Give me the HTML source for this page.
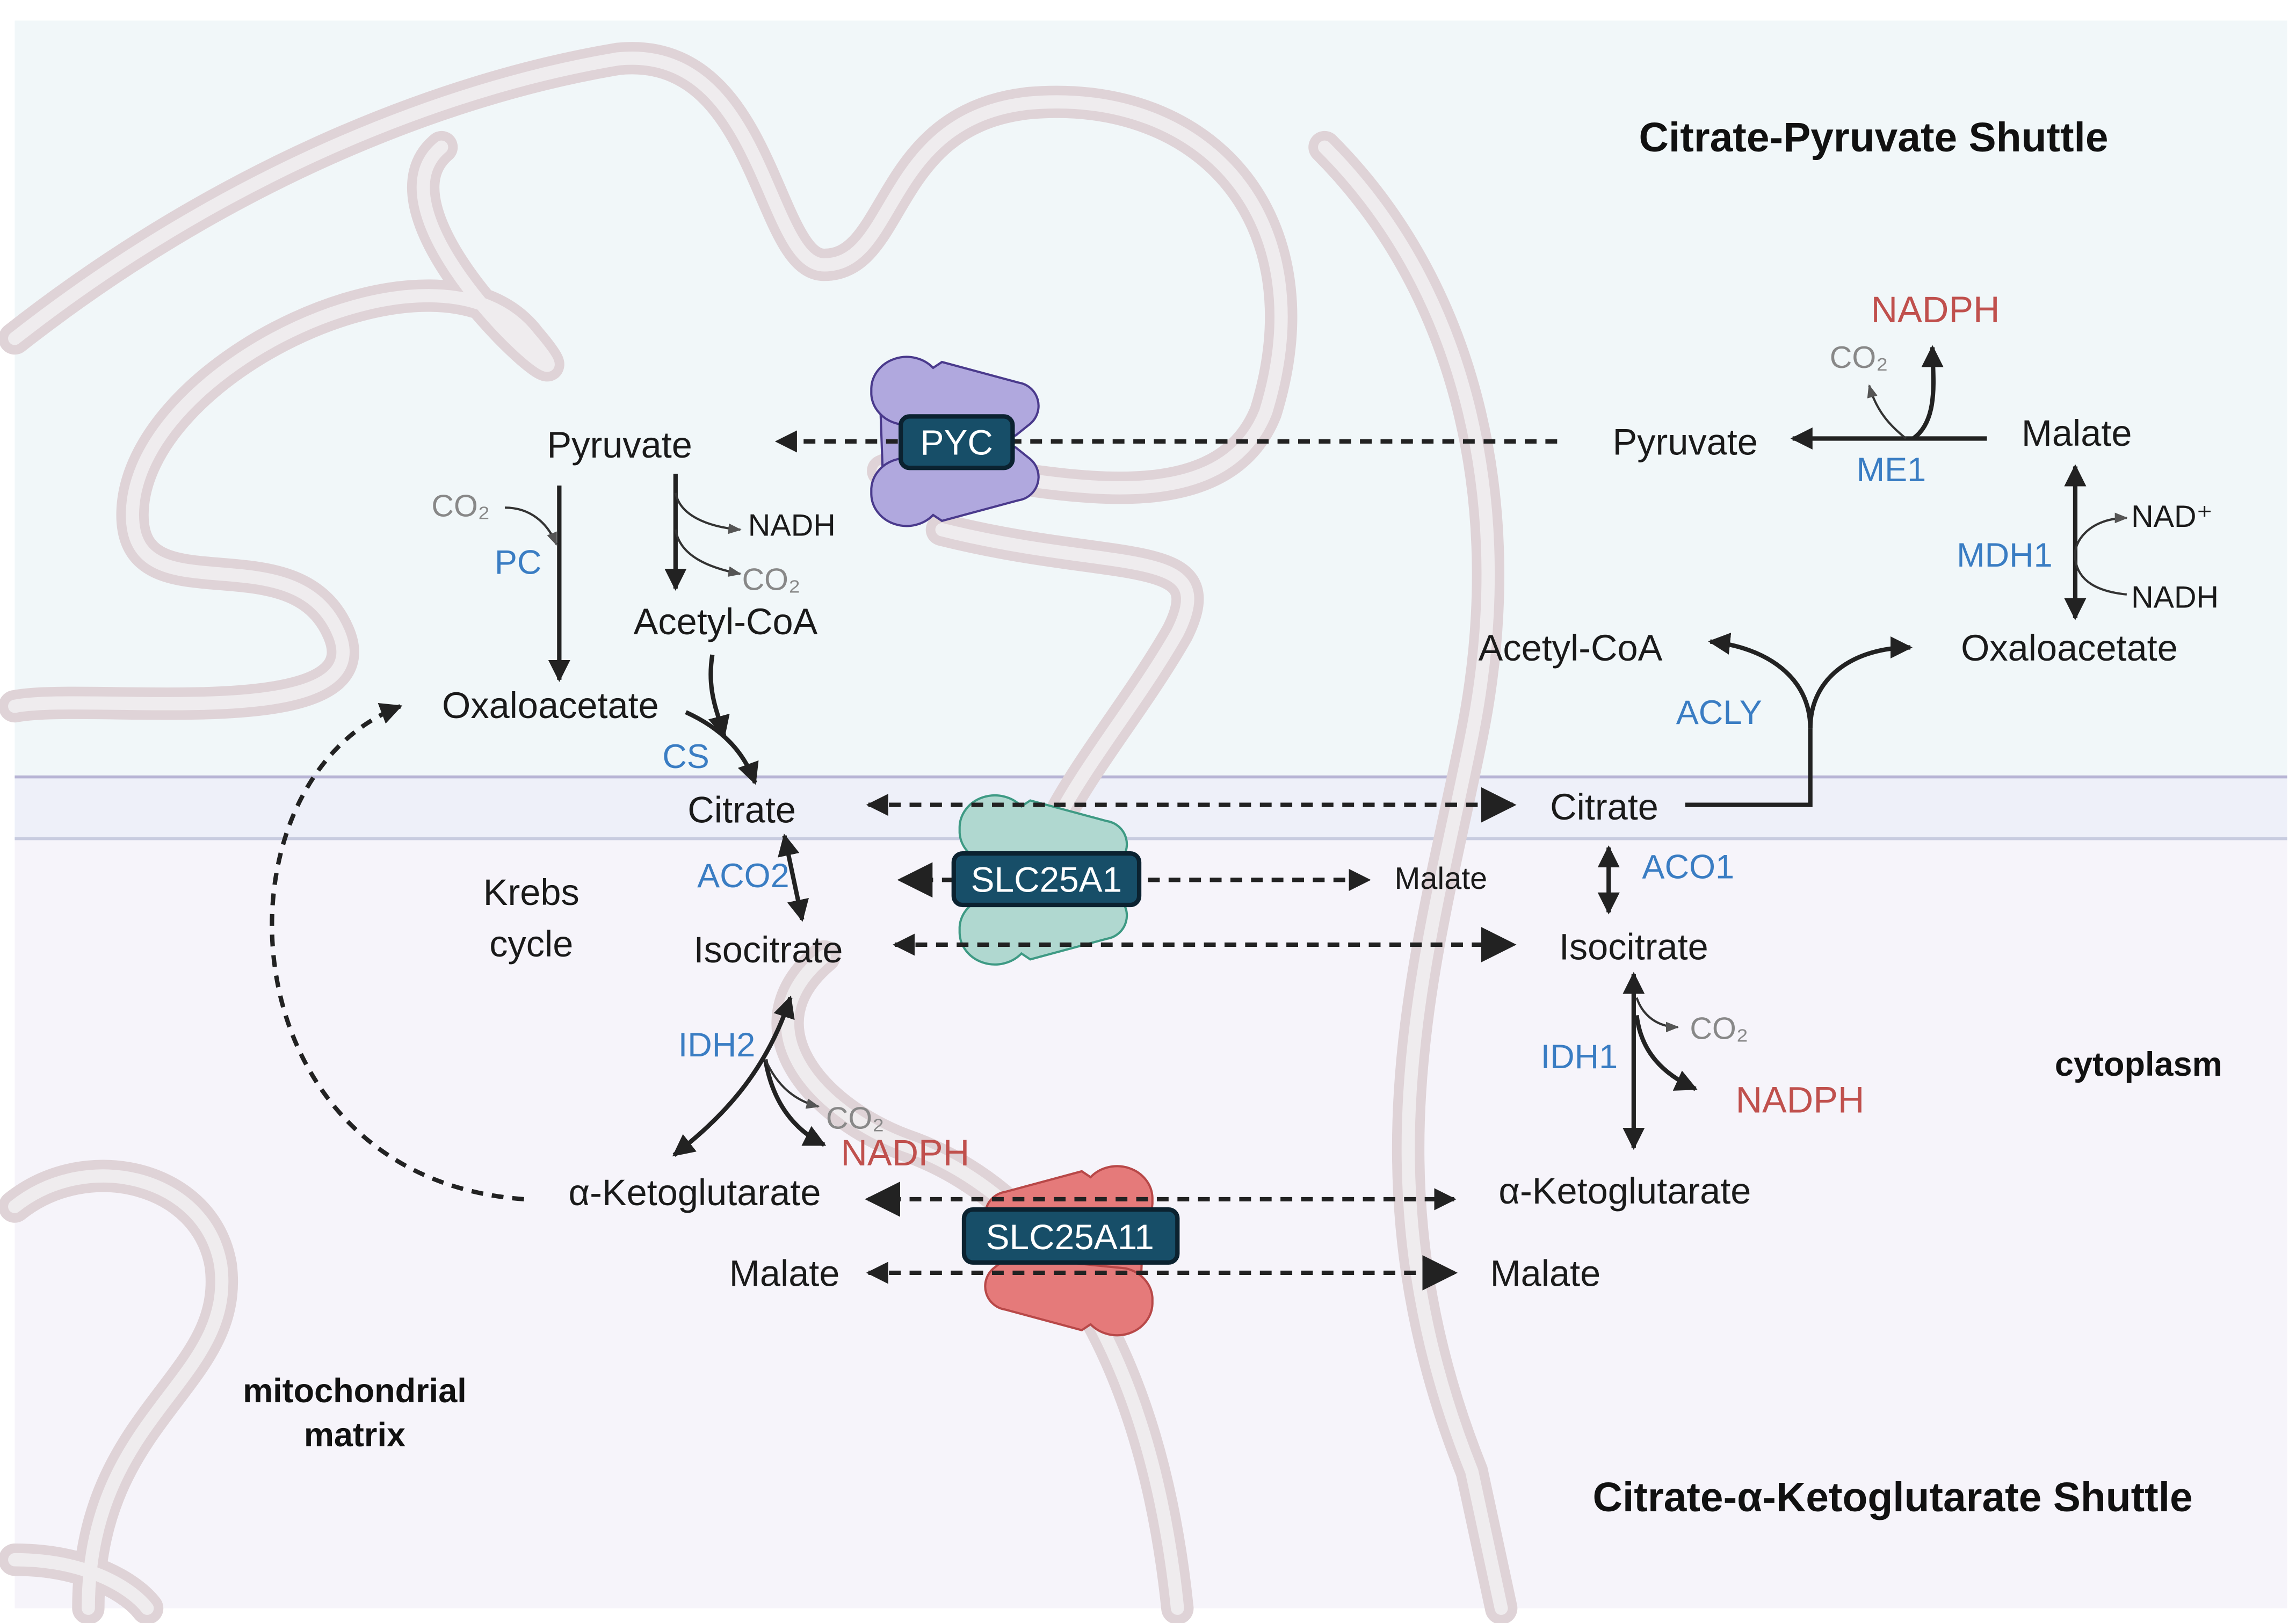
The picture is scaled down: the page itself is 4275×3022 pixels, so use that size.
<!DOCTYPE html>
<html><head><meta charset="utf-8"><style>
html,body{margin:0;padding:0;background:#fff}
svg{display:block}
text{font-family:"Liberation Sans",sans-serif}
.m{font-size:25px;fill:#1a1a1a}
.b{font-size:23px;fill:#3a7dc3}
.r{font-size:25px;fill:#c0504d}
.g{font-size:21px;fill:#888}
.s{font-size:21px;fill:#1a1a1a}
.h{font-weight:bold;fill:#111}
.lab{font-size:24px;fill:#fff}
</style></head><body>
<svg width="4275" height="3022" viewBox="0 0 1560 1103" preserveAspectRatio="none" xmlns="http://www.w3.org/2000/svg">
<defs>
<marker id="a" viewBox="0 0 10 10" refX="9" refY="5" markerWidth="5" markerHeight="5" orient="auto-start-reverse" markerUnits="strokeWidth"><path d="M0,0L10,5L0,10Z" fill="#222"/></marker>
<marker id="A" viewBox="0 0 10 10" refX="9" refY="5" markerWidth="8" markerHeight="8" orient="auto-start-reverse" markerUnits="strokeWidth"><path d="M0,0L10,5L0,10Z" fill="#222"/></marker>
<marker id="t" viewBox="0 0 10 10" refX="9" refY="5" markerWidth="6" markerHeight="6" orient="auto-start-reverse" markerUnits="strokeWidth"><path d="M0,1L10,5L0,9Z" fill="#555"/></marker>
<g id="tp">
<path d="M-52,-28 L-50,28 L-20,28 L-20,-28 Z"/>
<path d="M-58,-36 a24,22 0 0 1 42,-14 l6,-4 l52,14 a16,16 0 0 1 8,28 l-10,8 L-40,-12 a24,22 0 0 1 -18,-20 Z"/>
<path d="M-58,36 a24,22 0 0 0 42,14 l6,4 l52,-14 a16,16 0 0 0 8,-28 l-10,-8 L-40,12 a24,22 0 0 0 -18,20 Z"/>
</g>
</defs>
<rect width="1560" height="1103" fill="#fff"/>
<rect x="10" y="14" width="1544" height="514" fill="#f1f7f9"/>
<rect x="10" y="528" width="1544" height="42" fill="#eef0f9"/>
<rect x="10" y="570" width="1544" height="523" fill="#f6f4fa"/>
<line x1="10" y1="528" x2="1554" y2="528" stroke="#b7b4d4" stroke-width="2"/>
<line x1="10" y1="570" x2="1554" y2="570" stroke="#c8cce0" stroke-width="2"/>
<g fill="none" stroke-linecap="round">
<g stroke="#dfd3d7" stroke-width="22">
<path d="M10,230 C150,120 300,60 420,40 C520,30 520,180 560,180 C610,180 600,80 700,70 C820,60 900,150 860,280 C820,380 640,300 600,320"/>
<path d="M10,480 C60,470 260,500 230,430 C200,360 90,420 90,350 C90,250 300,150 360,230 C420,300 240,150 300,100"/>
<path d="M640,360 C760,390 830,370 800,430 C760,500 700,560 700,620"/>
<path d="M560,650 C500,700 560,760 620,780 C700,810 780,900 800,1093"/>
<path d="M900,100 C1000,200 1030,350 1000,500 C970,650 920,800 1000,1000 L1020,1093"/>
<path d="M10,820 C60,780 140,800 150,860 C160,940 60,960 60,1093"/>
<path d="M10,1060 C60,1060 90,1080 100,1093"/>
</g>
<g stroke="#efecee" stroke-width="9">
<path d="M10,230 C150,120 300,60 420,40 C520,30 520,180 560,180 C610,180 600,80 700,70 C820,60 900,150 860,280 C820,380 640,300 600,320"/>
<path d="M10,480 C60,470 260,500 230,430 C200,360 90,420 90,350 C90,250 300,150 360,230 C420,300 240,150 300,100"/>
<path d="M640,360 C760,390 830,370 800,430 C760,500 700,560 700,620"/>
<path d="M560,650 C500,700 560,760 620,780 C700,810 780,900 800,1093"/>
<path d="M900,100 C1000,200 1030,350 1000,500 C970,650 920,800 1000,1000 L1020,1093"/>
<path d="M10,820 C60,780 140,800 150,860 C160,940 60,960 60,1093"/>
<path d="M10,1060 C60,1060 90,1080 100,1093"/>
</g>
</g>
<!-- transporters -->
<use href="#tp" x="650" y="300" fill="#b0a8de" stroke="#4a3a8c" stroke-width="1.5"/>
<use href="#tp" x="710" y="598" fill="#b0d8d0" stroke="#3e9a84" stroke-width="1.5"/>
<use href="#tp" x="725" y="850" fill="#e57a7a" stroke="#b84848" stroke-width="1.5" transform="translate(1450,0) scale(-1,1)"/>
<!-- dashed arrows -->
<g stroke="#222" stroke-width="3" stroke-dasharray="8,6" fill="none">
<path d="M1058,300 L528,300" marker-end="url(#a)"/>
<path d="M590,547 L1028,547" marker-start="url(#a)" marker-end="url(#A)"/>
<path d="M612,598 L930,598" marker-start="url(#A)" marker-end="url(#a)"/>
<path d="M608,642 L1028,642" marker-start="url(#a)" marker-end="url(#A)"/>
<path d="M590,815 L988,815" marker-start="url(#A)" marker-end="url(#a)"/>
<path d="M590,865 L988,865" marker-start="url(#a)" marker-end="url(#A)"/>
<path d="M356,815 C150,800 140,530 272,480" marker-end="url(#a)"/>
</g>
<!-- labels on transporters -->
<rect x="612" y="283" width="76" height="35" rx="6" fill="#174e68" stroke="#0b2230" stroke-width="3"/>
<text x="650" y="309" text-anchor="middle" class="lab">PYC</text>
<rect x="648" y="580" width="126" height="35" rx="6" fill="#174e68" stroke="#0b2230" stroke-width="3"/>
<text x="711" y="606" text-anchor="middle" class="lab">SLC25A1</text>
<rect x="655" y="822" width="145" height="36" rx="6" fill="#174e68" stroke="#0b2230" stroke-width="3"/>
<text x="727" y="849" text-anchor="middle" class="lab">SLC25A11</text>
<!-- solid arrows -->
<g stroke="#222" stroke-width="3" fill="none">
<path d="M380,330 L380,462" marker-end="url(#a)"/>
<path d="M459,322 L459,400" marker-end="url(#a)"/>
<path d="M484,445 C480,470 488,485 492,500" marker-end="url(#a)"/>
<path d="M466,484 C490,495 505,510 513,532" marker-end="url(#a)"/>
<path d="M533,568 L545,625" marker-start="url(#a)" marker-end="url(#a)"/>
<path d="M537,678 C520,730 490,760 458,785" marker-start="url(#a)" marker-end="url(#a)"/>
<path d="M520,720 C525,750 540,768 560,778" marker-end="url(#a)"/>
<path d="M1145,547 L1230,547 L1230,495"/>
<path d="M1230,495 C1230,460 1200,440 1162,436" marker-end="url(#a)"/>
<path d="M1230,495 C1230,460 1260,440 1298,440" marker-end="url(#a)"/>
<path d="M1410,317 L1410,420" marker-start="url(#a)" marker-end="url(#a)"/>
<path d="M1350,298 L1218,298" marker-end="url(#a)"/>
<path d="M1300,298 C1318,285 1313,255 1313,236" marker-end="url(#a)"/>
<path d="M1093,576 L1093,620" marker-start="url(#a)" marker-end="url(#a)"/>
<path d="M1110,662 L1110,780" marker-start="url(#a)" marker-end="url(#a)"/>
<path d="M1112,690 C1115,715 1130,730 1152,740" marker-end="url(#a)"/>
</g>
<g stroke="#333" stroke-width="1.5" fill="none">
<path d="M459,335 C462,350 480,358 503,360" marker-end="url(#t)"/>
<path d="M459,360 C462,378 482,386 503,390" marker-end="url(#t)"/>
<path d="M343,345 C360,345 372,355 378,370" marker-end="url(#t)"/>
<path d="M520,720 C528,738 540,748 556,752" marker-end="url(#t)"/>
<path d="M1295,298 C1285,290 1275,280 1270,262" marker-end="url(#t)"/>
<path d="M1112,678 C1116,690 1126,698 1140,698" marker-end="url(#t)"/>
<path d="M1445,352 C1420,352 1408,368 1410,380 C1412,395 1425,402 1445,404" marker-start="url(#t)"/>
</g>
<!-- text -->
<text x="1273" y="103" text-anchor="middle" class="h" font-size="28">Citrate-Pyruvate Shuttle</text>
<text x="1286" y="1027" text-anchor="middle" class="h" font-size="28">Citrate-α-Ketoglutarate Shuttle</text>
<text x="1453" y="731" text-anchor="middle" class="h" font-size="23">cytoplasm</text>
<text x="241" y="953" text-anchor="middle" class="h" font-size="23">mitochondrial</text>
<text x="241" y="983" text-anchor="middle" class="h" font-size="23">matrix</text>
<text x="1315" y="219" text-anchor="middle" class="r">NADPH</text>
<text x="1263" y="250" text-anchor="middle" class="g">CO₂</text>
<text x="1145" y="309" text-anchor="middle" class="m">Pyruvate</text>
<text x="1411" y="303" text-anchor="middle" class="m">Malate</text>
<text x="1285" y="327" text-anchor="middle" class="b">ME1</text>
<text x="1362" y="385" text-anchor="middle" class="b">MDH1</text>
<text x="1448" y="358" class="s">NAD⁺</text>
<text x="1448" y="413" class="s">NADH</text>
<text x="1067" y="449" text-anchor="middle" class="m">Acetyl-CoA</text>
<text x="1406" y="449" text-anchor="middle" class="m">Oxaloacetate</text>
<text x="1168" y="492" text-anchor="middle" class="b">ACLY</text>
<text x="1090" y="557" text-anchor="middle" class="m">Citrate</text>
<text x="1147" y="597" text-anchor="middle" class="b">ACO1</text>
<text x="979" y="604" text-anchor="middle" class="s">Malate</text>
<text x="1110" y="652" text-anchor="middle" class="m">Isocitrate</text>
<text x="1168" y="706" text-anchor="middle" class="g">CO₂</text>
<text x="1073" y="726" text-anchor="middle" class="b">IDH1</text>
<text x="1223" y="756" text-anchor="middle" class="r">NADPH</text>
<text x="1104" y="818" text-anchor="middle" class="m">α-Ketoglutarate</text>
<text x="1050" y="874" text-anchor="middle" class="m">Malate</text>
<text x="421" y="311" text-anchor="middle" class="m">Pyruvate</text>
<text x="313" y="351" text-anchor="middle" class="g">CO₂</text>
<text x="352" y="390" text-anchor="middle" class="b">PC</text>
<text x="538" y="364" text-anchor="middle" class="s">NADH</text>
<text x="524" y="401" text-anchor="middle" class="g">CO₂</text>
<text x="493" y="431" text-anchor="middle" class="m">Acetyl-CoA</text>
<text x="374" y="488" text-anchor="middle" class="m">Oxaloacetate</text>
<text x="466" y="522" text-anchor="middle" class="b" font-size="20">CS</text>
<text x="504" y="559" text-anchor="middle" class="m">Citrate</text>
<text x="505" y="603" text-anchor="middle" class="b" font-size="20">ACO2</text>
<text x="361" y="615" text-anchor="middle" class="m">Krebs</text>
<text x="361" y="650" text-anchor="middle" class="m">cycle</text>
<text x="522" y="654" text-anchor="middle" class="m">Isocitrate</text>
<text x="487" y="718" text-anchor="middle" class="b">IDH2</text>
<text x="581" y="767" text-anchor="middle" class="g">CO₂</text>
<text x="615" y="792" text-anchor="middle" class="r">NADPH</text>
<text x="472" y="819" text-anchor="middle" class="m">α-Ketoglutarate</text>
<text x="533" y="874" text-anchor="middle" class="m">Malate</text>
</svg>
</body></html>
